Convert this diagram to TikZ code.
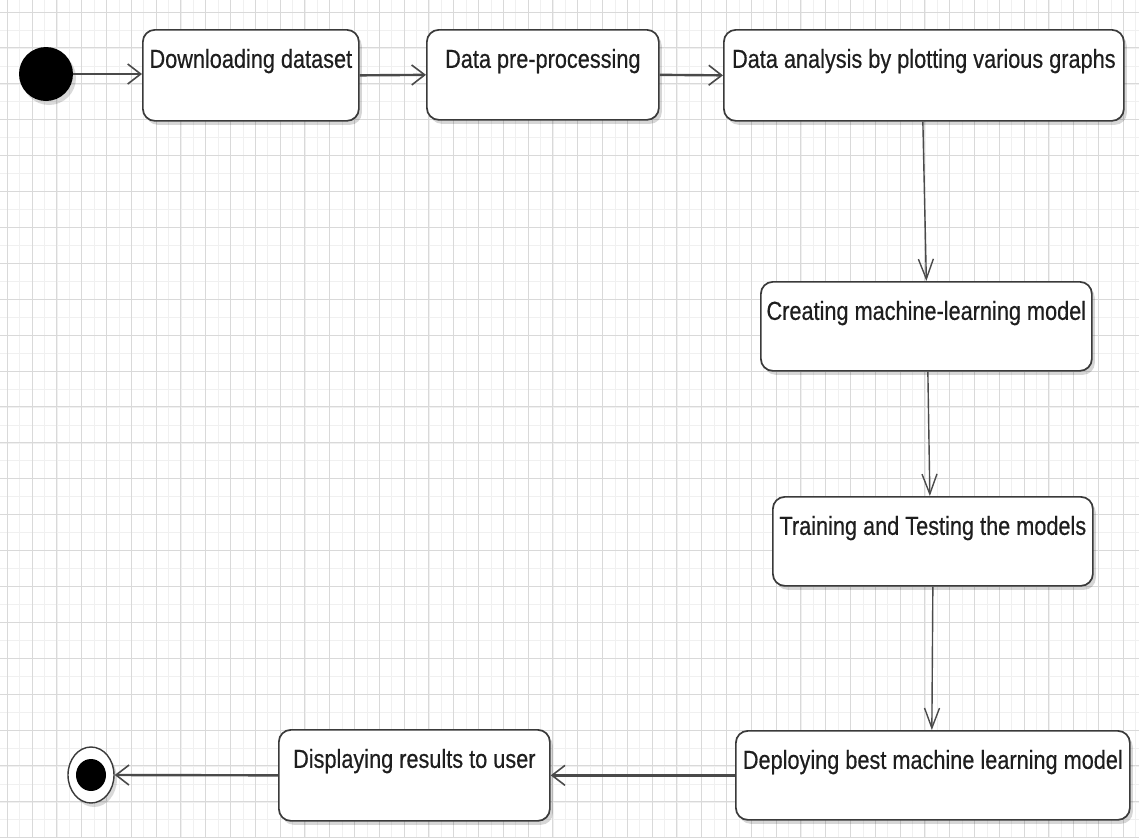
\documentclass[tikz,border=0pt]{standalone}
\usepackage{fontspec}
\usepackage{graphicx}
\setmainfont{Liberation Sans}
\newfontfamily\lblfont[FakeBold=0.5]{Liberation Sans}
\usetikzlibrary{arrows.meta,shapes.geometric,shadows}
\definecolor{boxc}{HTML}{3A3A3A}
\definecolor{linec}{HTML}{4A4A4A}
\definecolor{txtc}{HTML}{1E1E1E}
\definecolor{gridmaj}{HTML}{D9D9D9}
\definecolor{gridmin}{HTML}{F0F0F0}
\tikzset{
  stepbox/.style={draw=boxc, line width=1.7pt, rounded corners=12pt, fill=white,
    inner sep=0pt, text height=38pt, text depth=#1, anchor=north west,
    text=txtc, font=\lblfont\fontsize{21.7}{26}\selectfont,
    drop shadow={shadow xshift=3pt, shadow yshift=-4pt, opacity=0.16, fill=black}},
  stepbox/.default=52pt,
  harrow/.style={draw=linec, line width=2.4pt, -{Straight Barb[length=13pt,width=20pt,line width=1.6pt]}},
  varrow/.style={draw=linec, line width=1.4pt, -{Straight Barb[length=20pt,width=15pt,line width=1.4pt]}},
}
\newcommand{\lbl}[1]{\scalebox{1}[1.2]{#1}}
\begin{document}
\begin{tikzpicture}[x=1pt,y=-1pt]
\useasboundingbox (0,0) rectangle (1139,838);
\fill[white] (0,0) rectangle (1139,838);
% grid
\foreach \i in {-2,...,92} {\draw[gridmin, line width=0.6pt] (32+\i*12.4,0) -- (32+\i*12.4,838);}
\foreach \j in {-2,...,47} {\draw[gridmin, line width=0.6pt] (0,12+\j*17.95) -- (1139,12+\j*17.95);}
\foreach \i in {-1,...,45} {\draw[gridmaj, line width=0.9pt] (32+\i*24.8,0) -- (32+\i*24.8,838);}
\foreach \j in {-1,...,23} {\draw[gridmaj, line width=0.9pt] (0,12+\j*35.9) -- (1139,12+\j*35.9);}
% start / end
\node[circle, fill=black, minimum size=54pt, inner sep=0pt,
  drop shadow={shadow xshift=3pt, shadow yshift=-4pt, opacity=0.15, fill=black}] (start) at (46,74) {};
\node[ellipse, draw=boxc, line width=1.4pt, fill=white, minimum width=46pt, minimum height=56pt, inner sep=0pt,
  drop shadow={shadow xshift=3pt, shadow yshift=-4pt, opacity=0.15, fill=black}] (end) at (91,775) {};
\node[ellipse, fill=black, minimum width=30pt, minimum height=32pt, inner sep=0pt] (endin) at (end.center) {};
% boxes
\node[stepbox=53pt, minimum width=216pt] (b1) at (142,29) {\lbl{Downloading dataset}};
\node[stepbox=52pt, minimum width=232pt] (b2) at (426,29) {\lbl{Data pre-processing}};
\node[stepbox=53pt, minimum width=400pt] (b3) at (723,29) {\lbl{Data analysis by plotting various graphs}};
\node[stepbox=51pt, minimum width=331pt] (b4) at (760,281) {\lbl{Creating machine-learning model}};
\node[stepbox=51pt, minimum width=320pt] (b5) at (772,496) {\lbl{Training and Testing the models}};
\node[stepbox=51pt, minimum width=394pt] (b6) at (735,730) {\lbl{Deploying best machine learning model}};
\node[stepbox=53pt, minimum width=271pt] (b7) at (278,729) {\lbl{Displaying results to user}};
% connectors
\draw[harrow] (start.east) -- (b1.west |- start.east);
\draw[harrow] (b1.east) -- (b2.west);
\draw[harrow] (b2.east) -- (b3.west);
\draw[varrow] ([xshift=-1pt]b3.south) -- (b4.north);
\draw[varrow] ([xshift=1.5pt]b4.south) -- ([xshift=-3pt]b5.north);
\draw[varrow] (b5.south) -- ([xshift=-1pt]b6.north);
\draw[harrow] (b6.west) -- (b7.east);
\draw[harrow] (b7.west) -- (end.east);
\end{tikzpicture}
\end{document}
